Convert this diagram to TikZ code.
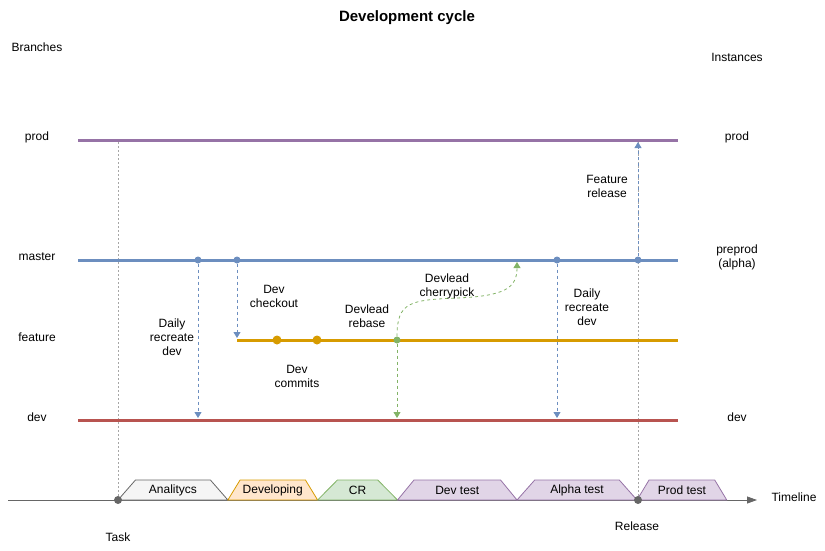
\documentclass[tikz,border=0pt]{standalone}
\usepackage{fontspec}
\setmainfont{Liberation Sans}
\usepackage{xcolor}
\usetikzlibrary{arrows.meta, positioning, shapes.geometric}
\definecolor{prodc}{HTML}{9673A6}
\definecolor{masterc}{HTML}{6C8EBF}
\definecolor{featc}{HTML}{D79B00}
\definecolor{devc}{HTML}{B85450}
\definecolor{greenc}{HTML}{82B366}
\definecolor{greyc}{HTML}{666666}
\definecolor{grayfill}{HTML}{F5F5F5}
\definecolor{orangefill}{HTML}{FFE6CC}
\definecolor{greenfill}{HTML}{D5E8D4}
\definecolor{purplefill}{HTML}{E1D5E7}
\tikzset{
  lbl/.style={font=\fontsize{12}{14}\selectfont, align=center, inner sep=0pt},
  branch/.style={line width=3pt},
  guide/.style={dash pattern=on 2pt off 2pt, color=black!35, line width=0.8pt},
  pull/.style={-{Triangle[width=7pt,length=6pt]}, dashed, line width=0.8pt},
  dot/.style={circle, fill, inner sep=0pt, minimum size=#1},
  dot/.default=7pt,
  phase/.style={trapezium, trapezium angle=45, trapezium stretches=true,
    minimum height=20pt, inner sep=0pt, outer sep=0pt, line width=0.8pt,
    anchor=bottom left corner, font=\fontsize{12}{14}\selectfont}
}

\begin{document}
\begin{tikzpicture}[x=1pt, y=-1pt]
  \useasboundingbox (0,0) rectangle (825,550);
  \node[font=\bfseries\fontsize{15}{18}\selectfont] (title) at (407,18) {Development cycle};
  \node[lbl] (branches) at (37,47) {Branches};
  \node[lbl] (instances) at (737,57) {Instances};
  % branch and instance names
  \node[lbl] (bprod) at (37,137) {prod};
  \node[lbl] (bmaster) at (37,257) {master};
  \node[lbl] (bfeat) at (37,337) {feature};
  \node[lbl] (bdev) at (37,417) {dev};
  \node[lbl] (iprod) at (737,137) {prod};
  \node[lbl] (ialpha) at (737,257) {preprod\\(alpha)};
  \node[lbl] (idev) at (737,417) {dev};
  % branches
  \coordinate (prodL) at (78,140);  \coordinate (prodR) at (678,140);
  \coordinate (mastL) at (78,260);  \coordinate (mastR) at (678,260);
  \coordinate (featL) at (237,340); \coordinate (featR) at (678,340);
  \coordinate (devL) at (78,420);   \coordinate (devR) at (678,420);
  % timeline
  \coordinate (tlL) at (8,500); \coordinate (tlR) at (757,500);
  \coordinate (t0) at (118,500); \coordinate (t1) at (638,500);
  \draw[guide] (t0) -- (t0 |- prodL);
  \draw[guide] (t1) -- (t1 |- prodL);
  \draw[branch, prodc] (prodL) -- (prodR);
  \draw[branch, masterc] (mastL) -- (mastR);
  \draw[branch, featc] (featL) -- (featR);
  \draw[branch, devc] (devL) -- (devR);
  \draw[greyc, line width=0.8pt, -{Triangle[width=7pt,length=10pt]}] (tlL) -- (tlR);
  \node[phase, fill=grayfill, draw=greyc, minimum width=110pt] (ana) at (t0) {Analitycs};
  \node[phase, fill=orangefill, draw=featc, minimum width=90pt] (devg) at (ana.bottom right corner) {Developing};
  \node[phase, fill=greenfill, draw=greenc, minimum width=80pt] (cr) at (devg.bottom right corner) {CR};
  \node[phase, fill=purplefill, draw=prodc, minimum width=120pt] (dtest) at (cr.bottom right corner) {Dev test};
  \node[phase, fill=purplefill, draw=prodc, minimum width=120pt] (atest) at (dtest.bottom right corner) {Alpha test};
  \node[phase, fill=purplefill, draw=prodc, minimum width=90pt] (ptest) at (atest.bottom right corner) {Prod test};
  \node[dot=8pt, greyc] (task) at (t0) {};
  \node[dot=8pt, greyc] (rel) at (t1) {};
  \node[lbl] (ltask) at (118,537) {Task};
  \node[lbl] (lrel) at (637,526) {Release};
  \node[lbl] (ltime) at (794,497) {Timeline};
  % commits
  \node[dot, masterc] (m1) at (198,260) {};
  \node[dot, masterc] (m2) at (237,260) {};
  \node[dot, masterc] (m3) at (557,260) {};
  \node[dot, masterc] (m4) at (638,260) {};
  \node[dot=9pt, featc] (f1) at (277,340) {};
  \node[dot=9pt, featc] (f2) at (317,340) {};
  \node[dot, greenc] (g1) at (397,340) {};
  \coordinate (d1) at (198,418); \coordinate (d2) at (397,418);
  \coordinate (d3) at (557,418); \coordinate (c1) at (237,338);
  \coordinate (p1) at (638,142); \coordinate (cp) at (517,262);
  \draw[pull, masterc] (m1) -- (d1);
  \draw[pull, masterc] (m2) -- (c1);
  \draw[pull, masterc] (m3) -- (d3);
  \draw[pull, masterc] (m4) -- (p1);
  \draw[pull, greenc] (g1) -- (d2);
  \draw[pull, greenc] (g1) .. controls (397,302) and (410,300) .. (457,298)
    .. controls (505,296) and (517,288) .. (cp);
  % action labels
  \node[lbl] (lday1) at (172,337) {Daily\\recreate\\dev};
  \node[lbl] (lcheck) at (274,296) {Dev\\checkout};
  \node[lbl] (lcomm) at (297,376) {Dev\\commits};
  \node[lbl] (lreb) at (367,316) {Devlead\\rebase};
  \node[lbl] (lcherry) at (447,286) {Devlead\\cherrypick};
  \node[lbl] (lday2) at (587,307) {Daily\\recreate\\dev};
  \node[lbl] (lfeat) at (607,186) {Feature\\release};
\end{tikzpicture}
\end{document}
